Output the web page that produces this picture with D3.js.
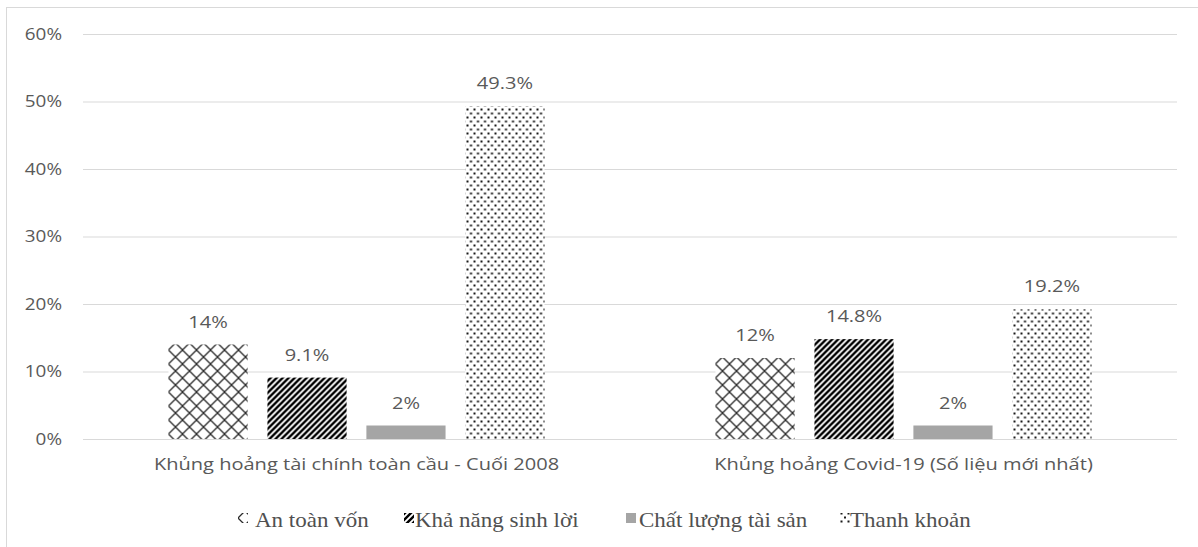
<!DOCTYPE html>
<html>
<head>
<meta charset="utf-8">
<script src="https://cdn.jsdelivr.net/npm/d3@7"></script>
<style>
  html, body { margin: 0; padding: 0; background: #fff; }
  svg { display: block; }
</style>
</head>
<body>
<svg id="chart" width="1198" height="547"></svg>
<script>
// Bank health indicators in two crisis periods (share, %)
const categories = [
  "Khủng hoảng tài chính toàn cầu - Cuối 2008",
  "Khủng hoảng Covid-19 (Số liệu mới nhất)"
];
const seriesNames = ["An toàn vốn", "Khả năng sinh lời", "Chất lượng tài sản", "Thanh khoản"];
const anToanVon   = [14, 12];
const khaNangSinhLoi = [9.1, 14.8];
const chatLuongTaiSan = [2, 2];
const thanhKhoan  = [49.3, 19.2];
const yTicks = [0, 10, 20, 30, 40, 50, 60];

const seriesValues = [anToanVon, khaNangSinhLoi, chatLuongTaiSan, thanhKhoan];
const patternIds = ["pat-cross", "pat-diag", null, "pat-dots"];
const solidGray = "#a5a5a5";

const svg = d3.select("#chart");
const W = 1198, H = 547;
const margin = { left: 83, right: 21 };
const plotBottom = 439, plotTop = 34;
const SANS = "'Open Sans', sans-serif";
const STRETCH = 1.18;   // slightly widened lettering

// outer chart border
svg.append("rect")
  .attr("x", 6.5).attr("y", 7.5)
  .attr("width", W + 10).attr("height", H + 10)
  .attr("fill", "#fff").attr("stroke", "#d9d9d9").attr("stroke-width", 1);

// fill patterns
const defs = svg.append("defs");

const pc = defs.append("pattern").attr("id", "pat-cross")
  .attr("patternUnits", "userSpaceOnUse").attr("width", 14).attr("height", 14);
pc.append("rect").attr("width", 14).attr("height", 14).attr("fill", "#fff");
pc.append("path").attr("d", "M0,0 L14,14 M14,0 L0,14")
  .attr("stroke", "#2b2b2b").attr("stroke-width", 1.3).attr("fill", "none");

const pd = defs.append("pattern").attr("id", "pat-diag")
  .attr("patternUnits", "userSpaceOnUse").attr("width", 6).attr("height", 6);
pd.append("rect").attr("width", 6).attr("height", 6).attr("fill", "#fff");
pd.append("path").attr("d", "M-1,7 L7,-1 M-1,1 L1,-1 M5,7 L7,5")
  .attr("stroke", "#000").attr("stroke-width", 2.4).attr("fill", "none");

const pdots = defs.append("pattern").attr("id", "pat-dots")
  .attr("patternUnits", "userSpaceOnUse").attr("width", 7).attr("height", 8);
pdots.append("rect").attr("width", 7).attr("height", 8).attr("fill", "#fff");
pdots.append("rect").attr("x", 0.5).attr("y", 0.5).attr("width", 2).attr("height", 2).attr("fill", "#1a1a1a");
pdots.append("rect").attr("x", 4).attr("y", 4.5).attr("width", 2).attr("height", 2).attr("fill", "#1a1a1a");

const fillFor = i => patternIds[i] ? `url(#${patternIds[i]})` : solidGray;

// scales
const x0 = d3.scaleBand().domain(categories).range([margin.left, W - margin.right]);
const y = d3.scaleLinear().domain([0, 60]).range([plotBottom, plotTop]);
const x1 = d3.scaleBand().domain(seriesNames).range([0, 376]).paddingInner(0.2);

// gridlines + y axis labels
const yAxis = d3.axisLeft(y).tickValues(yTicks)
  .tickFormat(d => d + "%")
  .tickSize(-(W - margin.right - margin.left)).tickPadding(21);
const gy = svg.append("g").attr("transform", `translate(${margin.left},0)`).call(yAxis);
gy.select(".domain").remove();
gy.selectAll(".tick line").attr("stroke", "#d9d9d9").attr("stroke-width", 1);
gy.selectAll(".tick text")
  .attr("fill", "#595959")
  .style("font-family", SANS)
  .style("font-size", "16px")
  .each(function () {
    const t = d3.select(this);
    const tx = +t.attr("x");
    t.attr("x", 0).attr("transform", `translate(${tx},0) scale(${STRETCH},1)`);
  });

// bars
const groups = svg.append("g").selectAll("g")
  .data(categories).join("g")
  .attr("transform", c => `translate(${x0(c) + x0.bandwidth() / 2 - 188},0)`);

seriesNames.forEach((name, si) => {
  groups.append("rect")
    .attr("x", x1(name))
    .attr("y", (c, ci) => y(seriesValues[si][ci]))
    .attr("width", x1.bandwidth())
    .attr("height", (c, ci) => y(0) - y(seriesValues[si][ci]))
    .attr("fill", fillFor(si));
  groups.append("text")
    .attr("transform", (c, ci) =>
      `translate(${x1(name) + x1.bandwidth() / 2},${y(seriesValues[si][ci]) - 17}) scale(${STRETCH},1)`)
    .attr("text-anchor", "middle")
    .attr("fill", "#595959")
    .style("font-family", SANS)
    .style("font-size", "17px")
    .text((c, ci) => seriesValues[si][ci] + "%");
});

// category labels
const xAxis = d3.axisBottom(x0).tickSize(0).tickPadding(19);
const gx = svg.append("g").attr("transform", `translate(0,${plotBottom})`).call(xAxis);
gx.select(".domain").remove();
gx.selectAll(".tick text")
  .attr("fill", "#595959")
  .style("font-family", SANS)
  .style("font-size", "17px")
  .each(function () {
    const t = d3.select(this);
    const ty = +t.attr("y");
    t.attr("y", 0).attr("transform", `translate(0,${ty}) scale(${STRETCH},1)`);
  });

// legend
const legendItems = [
  { name: seriesNames[0], mx: 238, tx: 255 },
  { name: seriesNames[1], mx: 404, tx: 415 },
  { name: seriesNames[2], mx: 626, tx: 639 },
  { name: seriesNames[3], mx: 840, tx: 850 }
];
const lg = svg.append("g");
legendItems.forEach((it, i) => {
  lg.append("rect")
    .attr("x", it.mx).attr("y", 513)
    .attr("width", 10).attr("height", 10)
    .attr("fill", fillFor(i));
  lg.append("text")
    .attr("transform", `translate(${it.tx},527) scale(1.15,1)`)
    .attr("fill", "#505050")
    .style("font-family", "'Liberation Serif', 'Times New Roman', serif")
    .style("font-size", "20px")
    .text(it.name);
});
</script>
</body>
</html>
